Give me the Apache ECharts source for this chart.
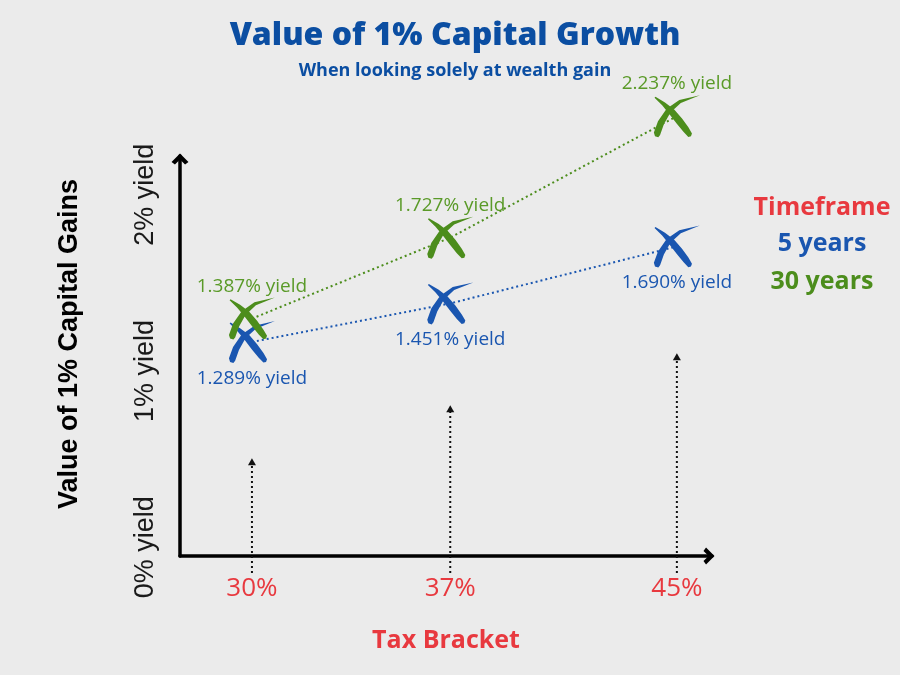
<!DOCTYPE html>
<html>
<head>
<meta charset="utf-8">
<script src="https://cdn.jsdelivr.net/npm/echarts@6/dist/echarts.min.js"></script>
<style>
html,body{margin:0;padding:0;background:#ebebeb;}
#main{width:900px;height:675px;}
</style>
</head>
<body>
<div id="main"></div>
<script>
// ---- data ----
var taxBrackets = [30, 37, 45];
var yields5y = [1.289, 1.451, 1.690];
var yields30y = [1.387, 1.727, 2.237];
var yTickValues = [0, 1, 2];
var arrowBase = -0.146;
var arrowTops = [0.505, 0.805, 1.10];

var BLUE = '#1a56b0', GREEN = '#4c8d1c', RED = '#e8393f', TITLE_BLUE = '#0b4ea2';

var markPath = 'path://M5.4,4.6 L34.3,20.9 L62.2,41.1 L85.9,67.4 L105.2,93.1 L116,111 L113,119 L105,121 L90.8,106.9 L70.1,82.6 L47.8,54.9 L25.7,29.1 L2.6,7.4 Z ' +
               'M0.6,108.5 L13.1,75.5 L39.2,39.6 L77.8,13.6 L140,0 L82.2,22.4 L50.8,50.4 L30.9,84.5 L19.4,115.5 L14,122 L4,119 Z';
var chevron = 'path://M0,10 L10,0 L20,10 L16,13 L10,7 L4,13 Z';

function pairs(xs, ys) { return xs.map(function (x, i) { return [x, ys[i]]; }); }

var chart = echarts.init(document.getElementById('main'));
chart.setOption({
  backgroundColor: '#ebebeb',
  animation: false,
  title: [
    { text: 'Value of 1% Capital Growth', left: 450, top: 15, textAlign: 'center',
      textStyle: { color: TITLE_BLUE, fontFamily: 'Open Sans', fontWeight: 800, fontSize: 32 } },
    { text: 'When looking solely at wealth gain', left: 450, top: 57, textAlign: 'center',
      textStyle: { color: TITLE_BLUE, fontFamily: 'Open Sans', fontWeight: 'bold', fontSize: 18 } },
    { text: 'Timeframe', left: 817, top: 190, textAlign: 'center',
      textStyle: { color: RED, fontFamily: 'Open Sans', fontWeight: 'bold', fontSize: 25 } },
    { text: '5 years', left: 817, top: 226, textAlign: 'center',
      textStyle: { color: BLUE, fontFamily: 'Open Sans', fontWeight: 'bold', fontSize: 25 } },
    { text: '30 years', left: 817, top: 264, textAlign: 'center',
      textStyle: { color: GREEN, fontFamily: 'Open Sans', fontWeight: 'bold', fontSize: 25 } }
  ],
  grid: { left: 180, right: 188, top: 156, bottom: 119 },
  xAxis: {
    type: 'value', min: 27.46, max: 46.24,
    name: 'Tax Bracket', nameLocation: 'middle', nameGap: 72,
    nameTextStyle: { color: RED, fontFamily: 'Open Sans', fontWeight: 'bold', fontSize: 25 },
    axisLine: { show: true, onZero: false, lineStyle: { color: '#000', width: 3.5 },
      symbol: ['none', chevron], symbolSize: [17, 11], symbolOffset: [0, -3] },
    axisTick: { show: false },
    splitLine: { show: false },
    axisLabel: { customValues: taxBrackets, formatter: '{value}%', margin: 20,
      color: RED, fontFamily: 'Open Sans', fontSize: 26 }
  },
  yAxis: [
    {
      type: 'value', min: -0.05, max: 2.22,
      name: 'Value of 1% Capital Gains', nameLocation: 'middle', nameGap: 97,
      nameTextStyle: { color: '#000', fontFamily: 'Liberation Sans', fontWeight: 'bold', fontSize: 27, padding: [0, 0, 0, 24] },
      axisLine: { show: true, lineStyle: { color: '#000', width: 3.5 },
        symbol: ['none', chevron], symbolSize: [17, 11], symbolOffset: [0, -3] },
      axisTick: { show: false },
      splitLine: { show: false },
      axisLabel: { customValues: yTickValues, formatter: '{value}% yield', rotate: 90, margin: 21,
        color: '#1a1a1a', fontFamily: 'Liberation Sans', fontSize: 27 }
    },
    { type: 'value', min: 0.39, max: 2.07, show: false }
  ],
  series: [
    {
      name: 'Tax bracket markers', type: 'custom', yAxisIndex: 0, silent: true,
      data: taxBrackets.map(function (x, i) { return [x, arrowBase, arrowTops[i]]; }),
      renderItem: function (params, api) {
        var p0 = api.coord([api.value(0), api.value(1)]);
        var p1 = api.coord([api.value(0), api.value(2)]);
        return { type: 'group', children: [
          { type: 'line', shape: { x1: p0[0], y1: p0[1], x2: p1[0], y2: p1[1] + 6 },
            style: { stroke: '#111', lineWidth: 2, lineDash: [2, 3] } },
          { type: 'polygon', shape: { points: [[p1[0], p1[1]], [p1[0] - 4, p1[1] + 7], [p1[0] + 4, p1[1] + 7]] },
            style: { fill: '#111' } }
        ] };
      }
    },
    {
      name: '5 years', type: 'line', yAxisIndex: 1, clip: false, z: 3,
      data: pairs(taxBrackets, yields5y),
      symbol: markPath, symbolSize: [46, 42], symbolKeepAspect: false,
      itemStyle: { color: BLUE },
      lineStyle: { color: BLUE, width: 2, type: [2, 3] },
      label: { show: true, position: 'bottom', distance: 6, color: BLUE, fontFamily: 'Open Sans', fontSize: 19,
        formatter: function (p) { return p.value[1].toFixed(3) + '% yield'; } }
    },
    {
      name: '30 years', type: 'line', yAxisIndex: 1, clip: false, z: 4,
      data: pairs(taxBrackets, yields30y),
      symbol: markPath, symbolSize: [46, 42], symbolKeepAspect: false,
      itemStyle: { color: GREEN },
      lineStyle: { color: GREEN, width: 2, type: [2, 3] },
      label: { show: true, position: 'top', distance: 2, color: '#5a9a28', fontFamily: 'Open Sans', fontSize: 19,
        formatter: function (p) { return p.value[1].toFixed(3) + '% yield'; } }
    }
  ]
});
</script>
</body>
</html>
